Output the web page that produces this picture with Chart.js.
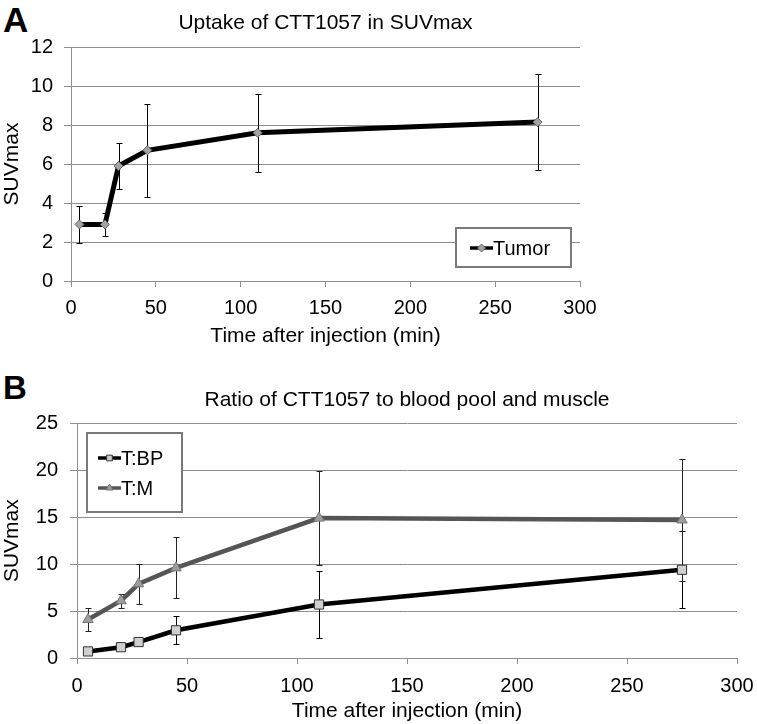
<!DOCTYPE html>
<html>
<head>
<title>CTT1057 uptake</title>
<script src="https://cdn.jsdelivr.net/npm/chart.js"></script>
<style>
    body { margin: 0; background: #fff; width: 757px; height: 724px; position: relative; overflow: hidden; }
    .panel { position: absolute; left: 0; width: 757px; }
    #panelA { top: 0; height: 355px; }
    #panelB { top: 355px; height: 369px; }
    .letter { position: absolute; left: 3px; font-family: "Liberation Sans", Arial, sans-serif; font-weight: bold; line-height: 1; color: #000; }
</style>
<script>
    // Time points (min) shared by both panels
    const times = [5, 20, 28, 45, 110, 275];

    // Panel A: tumor SUVmax, mean and SD
    const tumorLabel = 'Tumor';
    const tumorSuv = [2.9, 2.9, 5.9, 6.7, 7.6, 8.15];
    const tumorErr = [0.95, 0.6, 1.2, 2.4, 2.0, 2.45];

    // Panel B: tumor to blood pool / tumor to muscle ratios
    const bpLabel = 'T:BP';
    const ratioBP = [0.7, 1.15, 1.7, 2.95, 5.7, 9.4];
    const ratioBPErr = [0.15, 0.2, 0.25, 1.5, 3.55, 4.1];
    const mLabel = 'T:M';
    const ratioM = [4.1, 6.1, 7.9, 9.6, 14.9, 14.7];
    const ratioMErr = [1.25, 0.75, 2.1, 3.25, 5.0, 6.5];

    const xTicks = [0, 50, 100, 150, 200, 250, 300];

    const FONT = '"Liberation Sans", Arial, sans-serif';
    const GRID = '#8e8e8e';

    // vertical error bars with small caps
    const errorBars = {
        id: 'errorBars',
        beforeDatasetsDraw(chart) {
            const ctx = chart.ctx;
            const xs = chart.scales.x, ys = chart.scales.y;
            chart.data.datasets.forEach(ds => {
                if (!ds.errors) return;
                ctx.save();
                ctx.strokeStyle = ds.errorColor || '#000';
                ctx.lineWidth = 1;
                ds.data.forEach((p, i) => {
                    const e = ds.errors[i];
                    const x = Math.round(xs.getPixelForValue(p.x)) + 0.5;
                    const y1 = Math.round(ys.getPixelForValue(p.y + e)) + 0.5;
                    const y2 = Math.round(ys.getPixelForValue(p.y - e)) + 0.5;
                    ctx.beginPath();
                    ctx.moveTo(x, y1); ctx.lineTo(x, y2);
                    ctx.moveTo(x - 3, y1); ctx.lineTo(x + 3, y1);
                    ctx.moveTo(x - 3, y2); ctx.lineTo(x + 3, y2);
                    ctx.stroke();
                });
                ctx.restore();
            });
        }
    };

    // Excel-like boxed legend sitting inside the plot
    const boxLegend = {
        id: 'boxLegend',
        afterDraw(chart, args, opts) {
            const ctx = chart.ctx;
            ctx.save();
            ctx.fillStyle = '#fff';
            ctx.fillRect(opts.x, opts.y, opts.w, opts.h);
            ctx.strokeStyle = '#7a7a7a';
            ctx.lineWidth = 2;
            ctx.strokeRect(opts.x, opts.y, opts.w, opts.h);
            chart.data.datasets.forEach((ds, i) => {
                const cy = opts.y + opts.firstRow + i * opts.rowGap;
                const lx = opts.x + opts.lineX;
                ctx.strokeStyle = ds.borderColor;
                ctx.lineWidth = 3.5;
                ctx.beginPath();
                ctx.moveTo(lx, cy); ctx.lineTo(lx + 23, cy);
                ctx.stroke();
                ctx.fillStyle = ds.pointBackgroundColor;
                ctx.strokeStyle = ds.pointBorderColor;
                ctx.lineWidth = 1;
                Chart.helpers.drawPoint(ctx, { pointStyle: ds.pointStyle, radius: 4, rotation: 0, borderWidth: 1 }, lx + 11.5, cy);
                ctx.fillStyle = '#000';
                ctx.font = '20px ' + FONT;
                ctx.textBaseline = 'middle';
                ctx.textAlign = 'left';
                ctx.fillText(ds.label, lx + 23, cy + 1);
            });
            ctx.restore();
        }
    };

    function pts(ys) {
        return times.map((t, i) => ({ x: t, y: ys[i] }));
    }

    function makeOptions(cfg) {
        return {
            responsive: false,
            animation: false,
            layout: { padding: { left: 0, right: cfg.rightPad, top: 0, bottom: 0 } },
            plugins: {
                legend: { display: false },
                tooltip: { enabled: false },
                title: {
                    display: true, text: cfg.title, color: '#000', fullSize: false,
                    font: { family: FONT, size: 21, weight: 'normal' },
                    padding: cfg.titlePad
                },
                boxLegend: cfg.legend
            },
            scales: {
                x: {
                    type: 'linear', min: 0, max: 300,
                    afterBuildTicks: s => { s.ticks = xTicks.map(v => ({ value: v })); },
                    // fixed axis height, and let the last label hang into the right padding
                    afterFit: s => { s.height = cfg.xHeight; s.paddingLeft = 0; s.paddingRight = 0; },
                    grid: { drawOnChartArea: false, drawTicks: true, tickLength: 6, color: GRID },
                    border: { display: true, color: GRID, width: 1 },
                    ticks: { color: '#000', padding: cfg.xTickPad, font: { family: FONT, size: 20 } },
                    title: { display: true, text: 'Time after injection (min)', color: '#000',
                             font: { family: FONT, size: 21 }, padding: { top: 0, bottom: cfg.xTitlePad } }
                },
                y: {
                    min: 0, max: cfg.yMax,
                    ticks: { stepSize: cfg.yStep, color: '#000', padding: cfg.yTickPad, font: { family: FONT, size: 20 } },
                    afterFit: s => { s.width = cfg.yWidth; },
                    grid: { color: GRID, lineWidth: 1, drawTicks: true, tickLength: 7 },
                    border: { display: true, color: GRID, width: 1 },
                    title: { display: true, text: 'SUVmax', color: '#000',
                             font: { family: FONT, size: 21 }, padding: { top: 0, bottom: 0 } }
                }
            }
        };
    }

    function drawCharts() {
        new Chart(document.getElementById('chartA'), {
            type: 'line',
            data: {
                datasets: [{
                    label: tumorLabel,
                    data: pts(tumorSuv),
                    errors: tumorErr,
                    borderColor: '#000', borderWidth: 5,
                    pointStyle: 'rectRot', pointRadius: 4.5,
                    pointBackgroundColor: '#a3a3a3', pointBorderColor: '#666', pointBorderWidth: 1,
                    tension: 0
                }]
            },
            options: makeOptions({
                title: 'Uptake of CTT1057 in SUVmax', titlePad: { top: 10.4, bottom: 11.4 },
                yMax: 12, yStep: 2, yWidth: 71, xHeight: 74, rightPad: 177,
                xTickPad: 9, yTickPad: 11, xTitlePad: 6,
                legend: { x: 456, y: 228, w: 115, h: 39, lineX: 14, firstRow: 20, rowGap: 0 }
            })
        });

        new Chart(document.getElementById('chartB'), {
            type: 'line',
            data: {
                datasets: [{
                    label: bpLabel,
                    data: pts(ratioBP),
                    errors: ratioBPErr,
                    borderColor: '#000', borderWidth: 4.5,
                    pointStyle: 'rect', pointRadius: 6.5,
                    pointBackgroundColor: '#cfcfcf', pointBorderColor: '#333', pointBorderWidth: 1,
                    tension: 0
                }, {
                    label: mLabel,
                    data: pts(ratioM),
                    errors: ratioMErr,
                    errorColor: '#222',
                    borderColor: '#555', borderWidth: 4.5,
                    pointStyle: 'triangle', pointRadius: 6,
                    pointBackgroundColor: '#9d9d9d', pointBorderColor: '#777', pointBorderWidth: 1,
                    tension: 0
                }]
            },
            options: makeOptions({
                title: 'Ratio of CTT1057 to blood pool and muscle', titlePad: { top: 32.4, bottom: 10.7 },
                yMax: 25, yStep: 5, yWidth: 77, xHeight: 66, rightPad: 20,
                xTickPad: 10, yTickPad: 12, xTitlePad: 0.5,
                legend: { x: 87, y: 78, w: 95, h: 79, lineX: 11, firstRow: 25, rowGap: 30 }
            })
        });
    }
    document.addEventListener('DOMContentLoaded', drawCharts);
</script>
</head>
<body>
    <div class="letter" style="top:2px; font-size:35px;">A</div>
    <div class="letter" style="top:371px; font-size:33px;">B</div>
    <div class="panel" id="panelA"><canvas id="chartA" width="757" height="355"></canvas></div>
    <div class="panel" id="panelB"><canvas id="chartB" width="757" height="369"></canvas></div>
    <script>
        // errorBars and boxLegend are registered globally so both charts use them
        Chart.register(errorBars, boxLegend);
    </script>
</body>
</html>
